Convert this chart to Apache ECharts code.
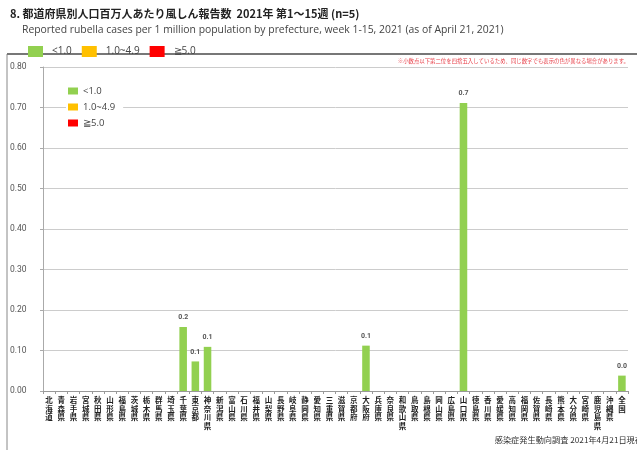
<!DOCTYPE html>
<html><head><meta charset="utf-8">
<script src="https://cdn.jsdelivr.net/npm/echarts@6/dist/echarts.min.js"></script>
<style>html,body{margin:0;padding:0;background:#fff}#c{width:637px;height:450px}</style>
</head><body><div id="c"></div>
<script>
const prefectures = ['北海道','青森県','岩手県','宮城県','秋田県','山形県','福島県','茨城県','栃木県','群馬県','埼玉県','千葉県','東京都','神奈川県','新潟県','富山県','石川県','福井県','山梨県','長野県','岐阜県','静岡県','愛知県','三重県','滋賀県','京都府','大阪府','兵庫県','奈良県','和歌山県','鳥取県','島根県','岡山県','広島県','山口県','徳島県','香川県','愛媛県','高知県','福岡県','佐賀県','長崎県','熊本県','大分県','宮崎県','鹿児島県','沖縄県','全国'];
const casesPerMillion = [0,0,0,0,0,0,0,0,0,0,0,0.158,0.073,0.109,0,0,0,0,0,0,0,0,0,0,0,0,0.112,0,0,0,0,0,0,0,0.711,0,0,0,0,0,0,0,0,0,0,0,0,0.038];
const yTicks = [0, 0.1, 0.2, 0.3, 0.4, 0.5, 0.6, 0.7, 0.8];
const legendNames = ['<1.0', '1.0~4.9', '≧5.0'];
const legendColors = ['#92D050', '#FFC000', '#FF0000'];

const chart = echarts.init(document.getElementById('c'), null, {renderer: 'canvas'});
const jp = '"Noto Sans CJK JP", "Noto Sans", sans-serif';

const series = legendNames.map((name, i) => ({
  name: name,
  type: 'bar',
  barWidth: '62%',
  barGap: '-100%',
  itemStyle: {color: legendColors[i]},
  data: i === 0 ? casesPerMillion.map(v => (v > 0 ? v : null)) : [],
  label: i === 0 ? {
    show: true, position: 'top', distance: 6,
    fontSize: 7, color: '#555', fontFamily: 'Roboto, sans-serif', fontWeight: 'bold',
    formatter: p => p.value.toFixed(1)
  } : undefined
}));

chart.setOption({
  animation: false,
  backgroundColor: '#fff',
  textStyle: {fontFamily: jp},
  graphic: [
    {type: 'rect', shape: {x: 7, y: 54, width: 640, height: 420}, style: {fill: 'none', stroke: '#888', lineWidth: 1}, z: -1},
    {type: 'line', shape: {x1: 7, y1: 54, x2: 637, y2: 54}, style: {stroke: '#777', lineWidth: 2}},
    {type: 'text', left: 10, top: 8, style: {text: '8. 都道府県別人口百万人あたり風しん報告数  2021年 第1～15週 (n=5)', font: 'bold 11px ' + jp, fill: '#222'}},
    {type: 'text', left: 22, top: 25, style: {text: 'Reported rubella cases per 1 million population by prefecture, week 1-15, 2021 (as of April 21, 2021)', font: '10.4px "Open Sans", sans-serif', fill: '#444'}},
    {type: 'text', right: 8, top: 58, style: {text: '※小数点以下第二位を四捨五入しているため、同じ数字でも表示の色が異なる場合があります。', font: '5.4px ' + jp, fill: '#E8424B'}},
    {type: 'text', right: -6, top: 436, style: {text: '感染症発生動向調査 2021年4月21日現在', font: '8.2px ' + jp, fill: '#333'}}
  ],
  legend: [
    {
      data: legendNames, left: 23, top: 41, itemWidth: 15, itemHeight: 11, itemGap: 10,
      icon: 'rect', textStyle: {fontSize: 10, color: '#444', fontFamily: '"Open Sans", sans-serif', padding: [0, 0, 0, 4]}, selectedMode: false
    },
    {
      data: legendNames, left: 66, top: 84, orient: 'vertical', itemWidth: 10, itemHeight: 7, itemGap: 6,
      icon: 'rect', backgroundColor: '#fff', padding: [2, 8, 2, 2],
      textStyle: {fontSize: 9.5, color: '#444', fontFamily: '"Open Sans", sans-serif'}, selectedMode: false
    }
  ],
  grid: {left: 43, right: 9, top: 67, bottom: 59, containLabel: false},
  xAxis: {
    type: 'category',
    data: prefectures,
    axisLine: {lineStyle: {color: '#999'}},
    axisTick: {show: true, length: 3, lineStyle: {color: '#999'}},
    axisLabel: {
      interval: 0, margin: 5, fontSize: 7.5, lineHeight: 8.5, fontWeight: 'bold', color: '#222', fontFamily: jp,
      formatter: v => v.split('').join('\n')
    }
  },
  yAxis: {
    type: 'value', min: 0, max: 0.8, interval: 0.1,
    axisLine: {show: true, lineStyle: {color: '#aaa'}},
    axisTick: {show: true, length: 3, lineStyle: {color: '#aaa'}},
    splitLine: {lineStyle: {color: '#ccc'}},
    axisLabel: {
      align: 'left', margin: 33, fontSize: 8.5, color: '#555', fontFamily: 'Roboto, sans-serif',
      formatter: v => yTicks.indexOf(Math.round(v * 10) / 10) >= 0 ? v.toFixed(2) : ''
    }
  },
  series: series
});
</script></body></html>
